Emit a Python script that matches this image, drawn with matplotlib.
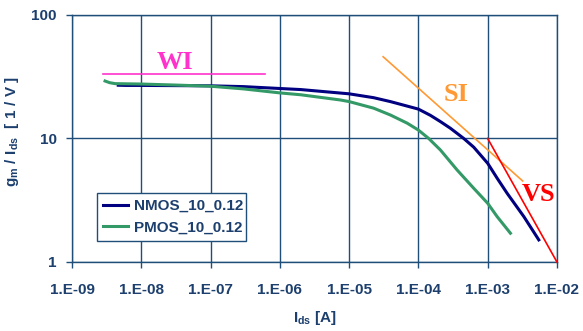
import matplotlib
matplotlib.use('Agg')
import matplotlib.pyplot as plt
from matplotlib.ticker import FixedLocator, FixedFormatter, NullLocator

plt.rcParams['font.family'] = ['Liberation Sans', 'DejaVu Sans']
plt.rcParams['mathtext.fontset'] = 'custom'
plt.rcParams['mathtext.rm'] = 'Liberation Sans:bold'
plt.rcParams['mathtext.bf'] = 'Liberation Sans:bold'
plt.rcParams['mathtext.it'] = 'Liberation Sans:bold'

# values
nmos_ids = [4.65e-9, 6e-9, 1e-8, 3e-8, 1e-7, 3e-7, 1e-6, 2e-6, 1e-5, 2.26e-5,
            3.94e-5, 1e-4, 1.49e-4, 2.08e-4, 2.9e-4, 4.52e-4, 6.3e-4, 1e-3,
            1.37e-3, 1.91e-3, 3.33e-3, 5.47e-3]
nmos_gm = [27.0, 26.9, 26.9, 26.8, 26.7, 26.3, 25.4, 24.9, 23.0, 21.4,
           19.9, 17.3, 15.4, 13.7, 12.1, 10.0, 8.5, 6.3,
           4.77, 3.6, 2.33, 1.51]

pmos_ids = [3.0e-9, 3.5e-9, 4.2e-9, 1e-8, 3e-8, 1e-7, 3e-7, 1e-6, 2e-6, 7.5e-6,
            1e-5, 2.26e-5, 3.94e-5, 6.9e-5, 1e-4, 1.41e-4, 2.08e-4, 3.62e-4,
            6.3e-4, 1e-3, 1.37e-3, 2.13e-3]
pmos_gm = [29.2, 28.3, 27.8, 27.6, 27.1, 26.5, 25.2, 23.4, 22.6, 20.5,
           19.9, 17.6, 15.5, 13.3, 11.7, 10.0, 8.07, 5.56,
           3.95, 2.99, 2.33, 1.71]

wi_x = [2.8e-9, 6.1e-7]
wi_y = [33.3, 33.3]
si_x = [3.1e-5, 3.2e-3]
si_y = [45.9, 4.53]
vs_x = [1e-3, 1e-2]
vs_y = [10, 1]

x_ticks = [1e-9, 1e-8, 1e-7, 1e-6, 1e-5, 1e-4, 1e-3, 1e-2]
x_labels = ['1.E-09', '1.E-08', '1.E-07', '1.E-06', '1.E-05', '1.E-04', '1.E-03', '1.E-02']
y_ticks = [1, 10, 100]
y_labels = ['1', '10', '100']

blue = '#1c3f6e'
grid_blue = '#1f4e79'

fig = plt.figure(figsize=(5.83, 3.31), dpi=100)
ax = fig.add_axes([0.1235, 0.2085, 0.8318, 0.7462])

ax.plot(nmos_ids, nmos_gm, color='#000080', lw=2.2, label='NMOS_10_0.12', zorder=4)
ax.plot(pmos_ids, pmos_gm, color='#339966', lw=2.2, label='PMOS_10_0.12', zorder=4)
ax.plot(wi_x, wi_y, color='#ff33cc', lw=1.2, zorder=3)
ax.plot(si_x, si_y, color='#ff9933', lw=1.2, zorder=3)
ax.plot(vs_x, vs_y, color='#ff0000', lw=1.2, zorder=3, clip_on=False)

ax.text(3.1e-8, 41.6, 'WI', color='#ff33cc', family='Liberation Serif', weight='bold',
        fontsize=19, ha='center', va='center')
ax.text(3.54e-4, 22.6, 'SI', color='#ff9933', family='Liberation Serif', weight='bold',
        fontsize=19, ha='center', va='center')
ax.text(5.4e-3, 3.49, 'VS', color='#ff0000', family='Liberation Serif', weight='bold',
        fontsize=19, ha='center', va='center')

ax.set_xscale('log')
ax.set_yscale('log')
ax.set_xlim(1e-9, 1e-2)
ax.set_ylim(1, 100)
ax.xaxis.set_major_locator(FixedLocator(x_ticks))
ax.xaxis.set_major_formatter(FixedFormatter(x_labels))
ax.xaxis.set_minor_locator(NullLocator())
ax.yaxis.set_major_locator(FixedLocator(y_ticks))
ax.yaxis.set_major_formatter(FixedFormatter(y_labels))
ax.yaxis.set_minor_locator(NullLocator())

ax.grid(True, color=grid_blue, lw=1.0)
ax.set_axisbelow(True)
for s in ax.spines.values():
    s.set_color(grid_blue)
    s.set_linewidth(1.0)

ax.tick_params(axis='both', colors=grid_blue, labelcolor=blue, length=4, width=1,
               direction='out', labelsize=11)
ax.tick_params(axis='x', pad=11)
ax.tick_params(axis='y', pad=7)
for lab in ax.get_xticklabels() + ax.get_yticklabels():
    lab.set_fontweight('bold')

ax.set_xlabel(r'$\mathregular{I_{ds}}$ [A]', color=blue, fontsize=11, fontweight='bold')
ax.set_ylabel(r'$\mathregular{g_m\ /\ I_{ds}\ \ [\ 1\ /\ V\ ]}$', color=blue, fontsize=11,
              fontweight='bold')
ax.xaxis.set_label_coords(0.5, -0.19)
ax.yaxis.set_label_coords(-0.105, 0.53)

leg = ax.legend(loc='lower left', bbox_to_anchor=(0.0515, 0.086, 0.307, 0.198),
                mode='expand', borderaxespad=0, fancybox=False, framealpha=1,
                edgecolor=grid_blue, handlelength=1.6, handletextpad=0.4,
                prop={'weight': 'bold', 'size': 11})
leg.get_frame().set_linewidth(1.0)
for t in leg.get_texts():
    t.set_color(blue)

fig.savefig('out.png', dpi=100)
